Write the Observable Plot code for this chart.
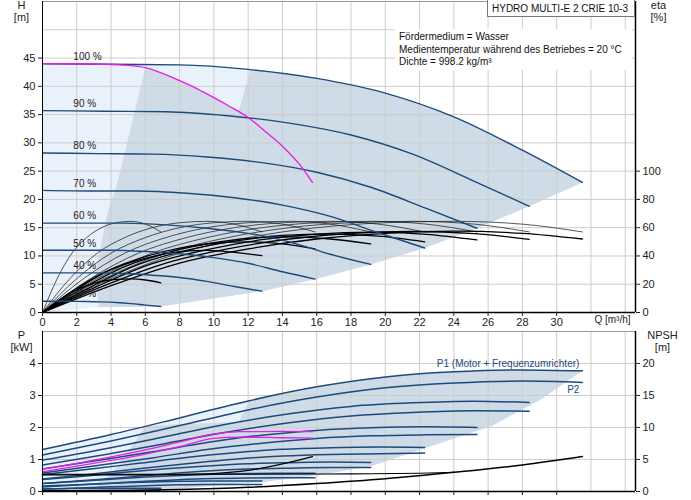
<!DOCTYPE html>
<html><head><meta charset="utf-8">
<script src="https://cdn.jsdelivr.net/npm/d3@7"></script>
<script src="https://cdn.jsdelivr.net/npm/@observablehq/plot@0.6"></script>
<style>
html,body{margin:0;padding:0;background:#fff;}
#wrap{position:relative;width:691px;height:500px;overflow:hidden;font-family:"Liberation Sans",Arial,sans-serif;}
#chartTop{position:absolute;left:0;top:0;}
#chartBot{position:absolute;left:0;top:330px;}
#title{position:absolute;left:487px;top:-1px;border:1px solid #777;background:#fff;font-size:10px;line-height:17px;padding-left:4px;box-sizing:border-box;width:148px;height:18px;color:#111;}
#info{position:absolute;left:395px;top:29px;width:237px;height:41px;background:#fff;font-size:10px;line-height:12.5px;color:#111;padding-left:4px;box-sizing:border-box;padding-top:2px;}
</style></head><body>
<div id="wrap"><div id="chartTop"></div><div id="chartBot"></div>
<div id="title">HYDRO MULTI-E 2 CRIE 10-3</div>
<div id="info">Fördermedium = Wasser<br>Medientemperatur während des Betriebes = 20 °C<br>Dichte = 998.2 kg/m³</div>
</div>
<script>
// ---------- data ----------
const speedLabels = ["100 %","90 %","80 %","70 %","60 %","50 %","40 %","21 %"];
const Q_100 = [0,4,8,12,16,20,24,28,31.5];
const Q_90  = [0,3.6,7.2,10.8,14.4,18,21.6,25.2,28.4];
const Q_80  = [0,3.2,6.4,9.6,12.8,16,19.2,22.4,25.35];
const Q_70  = [0,2.8,5.6,8.4,11.2,14,16.8,19.6,22.3];
const Q_60  = [0,2.4,4.8,7.2,9.6,12,14.4,16.8,19.15];
const Q_50  = [0,2,4,6,8,10,12,14,15.9];
const Q_40  = [0,1.6,3.2,4.8,6.4,8,9.6,11.2,12.8];
const Q_21  = [0,0.86,1.72,2.58,3.44,4.3,5.16,6.02,6.9];

const H_100 = [44.0,43.9,43.8,43.0,41.4,38.8,34.6,28.7,23.0];
const H_90  = [35.7,35.6,35.5,34.8,33.5,31.4,28.0,23.2,18.8];
const H_80  = [28.2,28.1,28.0,27.5,26.5,24.8,22.1,18.4,14.9];
const H_70  = [21.6,21.5,21.5,21.1,20.3,19.0,17.0,14.1,11.4];
const H_60  = [15.8,15.8,15.8,15.5,14.9,14.0,12.5,10.3,8.5];
const H_50  = [11.0,11.0,11.0,10.8,10.4,9.7,8.7,7.2,5.9];
const H_40  = [7.0,7.0,7.0,6.9,6.6,6.2,5.5,4.6,3.77];
const H_21  = [2.0,2.0,1.98,1.95,1.88,1.76,1.57,1.31,1.06];

// pump efficiency [%] (same along each speed curve)
const ETA_PUMP = [0,24,42,53,60,63.5,64.5,62.5,57];
// total efficiency [%]
const ETA_T_100 = [0,19,35,45,52,56,57.5,56,52];
const ETA_T_90  = [0,19,35,45,52,56,57.3,55.8,51.8];
const ETA_T_80  = [0,18.5,34.5,44.5,51.5,55.5,56.8,55.3,51.3];
const ETA_T_70  = [0,18,34,44,50.5,54.5,55.5,54,50];
const ETA_T_60  = [0,17.5,32.5,42,48.5,52.5,53.5,52,48.5];
const ETA_T_50  = [0,16.5,30.5,39.5,45.5,49,50,48.5,45];
const ETA_T_40  = [0,14,26,34,39.5,43,44,42.5,40.2];
const ETA_T_21  = [0,8,14.5,19,22,23.5,23.8,23,21];

// power [kW]
const P1_100 = [1.31,1.78,2.3,2.83,3.27,3.58,3.74,3.8,3.77];
const P1_90  = [0.98,1.33,1.72,2.11,2.43,2.66,2.77,2.82,2.78];
const P1_80  = [0.70,0.97,1.24,1.53,1.76,1.91,1.99,2.02,2.0];
const P1_70  = [0.53,0.70,0.88,1.06,1.21,1.32,1.37,1.39,1.375];
const P1_60  = [0.37,0.48,0.60,0.71,0.80,0.87,0.90,0.92,0.91];
const P1_50  = [0.25,0.31,0.38,0.45,0.5,0.54,0.56,0.57,0.57];
const P1_40  = [0.17,0.2,0.24,0.27,0.3,0.32,0.33,0.33,0.33];
const P1_21  = [0.08,0.085,0.09,0.095,0.1,0.1,0.1,0.1,0.1];
const P2_100 = [1.14,1.58,2.06,2.55,2.95,3.24,3.39,3.45,3.41];
const P2_90  = [0.83,1.15,1.50,1.86,2.15,2.36,2.47,2.52,2.51];
const P2_80  = [0.58,0.81,1.05,1.31,1.51,1.66,1.74,1.77,1.78];
const P2_70  = [0.39,0.54,0.71,0.87,1.01,1.11,1.16,1.18,1.2];
const P2_60  = [0.25,0.34,0.44,0.55,0.64,0.70,0.73,0.75,0.75];
const P2_50  = [0.14,0.2,0.26,0.32,0.37,0.41,0.42,0.43,0.43];
const P2_40  = [0.07,0.1,0.13,0.16,0.19,0.21,0.22,0.22,0.22];
const P2_21  = [0.01,0.015,0.02,0.025,0.029,0.031,0.033,0.033,0.033];

// max-power limit (magenta)
const MAG_HQ = [0,3,5,6,7,8,9,10,11,12,13,14,15,15.75];
const MAG_H  = [44.0,43.95,43.7,43.3,42.3,41.0,39.6,38.0,36.3,34.5,32.0,29.4,26.2,23.0];
const MAG_PQ = [0,2,4,6,8,10,11.5,14,15.75];
const MAG_P1 = [0.7,0.88,1.08,1.3,1.55,1.8,1.87,1.88,1.87];
const MAG_P2 = [0.62,0.79,0.97,1.17,1.4,1.66,1.7,1.68,1.67];

// NPSH [m]
const NPSH_100 = [0.1,0.15,0.3,0.65,1.25,2.0,3.0,4.15,5.47];
const NPSH_MAX_Q = [0,4,8,10,12,14,15.75];
const NPSH_MAX   = [2.6,2.6,2.65,2.8,3.3,4.3,5.45];
const NPSH_B_Q = [0,6,12,18,22,24];
const NPSH_B   = [2.7,2.7,2.7,2.75,2.85,3.0];

// operating range boundaries
const L1_Q = [3.29,3.09,3.19,3.78,4.4,6.0];
const L1_H = [0.94,5.6,8.6,17.4,23.3,43.3];
const L2_Q = [11.44,12.14];
const L2_H = [35.5,43.0];
const L1B_Q = [3.3,3.2,3.78,4.4,6.0];
const L1B_P = [0.05,0.3,0.45,0.78,2.05];
const TOPB_Q = [8,10,11.44,12.1];
const TOPB_P = [2.1,2.14,2.17,2.84];
const BND_Q = [31.5,29,26.2,22.3,19.2,16,12.8,6.9];
const BND_P = [3.77,2.85,2.05,1.35,0.8,0.5,0.3,0.05];

// ticks
const qTicks = [0,2,4,6,8,10,12,14,16,18,20,22,24,26,28,30];
const qGrid = [0,2,4,6,8,10,12,14,16,18,20,22,24,26,28,30,32,34];
const hTicks = [0,5,10,15,20,25,30,35,40,45];
const hGrid = [0,5,10,15,20,25,30,35,40,45,50];
const etaTicks = [0,20,40,60,80,100];
const pTicks = [0,1,2,3,4];
const npshTicks = [0,5,10,15,20];

// ---------- build tables ----------
const sQ = [Q_100,Q_90,Q_80,Q_70,Q_60,Q_50,Q_40,Q_21];
const sH = [H_100,H_90,H_80,H_70,H_60,H_50,H_40,H_21];
const sET = [ETA_T_100,ETA_T_90,ETA_T_80,ETA_T_70,ETA_T_60,ETA_T_50,ETA_T_40,ETA_T_21];
const sP1 = [P1_100,P1_90,P1_80,P1_70,P1_60,P1_50,P1_40,P1_21];
const sP2 = [P2_100,P2_90,P2_80,P2_70,P2_60,P2_50,P2_40,P2_21];
const rows = speedLabels.flatMap((s,i)=> sQ[i].map((q,j)=>({s, q, h:sH[i][j], etaP:ETA_PUMP[j], etaT:sET[i][j], p1:sP1[i][j], p2:sP2[i][j]})));
const labelRows = speedLabels.map((s,i)=>({s, h:sH[i][0]}));
const magH = MAG_HQ.map((q,i)=>({q, h:MAG_H[i]}));
const magP = MAG_PQ.map((q,i)=>({q, p1:MAG_P1[i], p2:MAG_P2[i]}));
const ends = sQ.map((a,i)=>({q:a[a.length-1], h:sH[i][a.length-1]}));

const lightTop = [{q:0,h:0}, ...Q_100.map((q,i)=>({q,h:H_100[i]})), ...ends.slice(1), {q:L1_Q[0],h:L1_H[0]}];
const greyTop = [
  ...L1_Q.map((q,i)=>({q,h:L1_H[i]})),
  ...magH.filter(d=>d.q>6 && d.q<L2_Q[0]),
  ...L2_Q.map((q,i)=>({q,h:L2_H[i]})),
  ...Q_100.map((q,i)=>({q,h:H_100[i]})).filter(d=>d.q>L2_Q[1]),
  ...ends.slice(1)
];
const lightBot = [{q:0,p:0}, ...Q_100.map((q,i)=>({q,p:P1_100[i]})), ...BND_Q.map((q,i)=>({q,p:BND_P[i]})), {q:0,p:0}];
const greyBot = [
  ...L1B_Q.map((q,i)=>({q,p:L1B_P[i]})),
  ...TOPB_Q.map((q,i)=>({q,p:TOPB_P[i]})),
  ...Q_100.map((q,i)=>({q,p:P1_100[i]})).filter(d=>d.q>TOPB_Q[TOPB_Q.length-1]),
  ...BND_Q.map((q,i)=>({q,p:BND_P[i]}))
];

const FONT = "'Liberation Sans', Arial, sans-serif";
const BLUE = "#1d4a7c";
const LIGHT = "#e9f1fa";
const GREY = "#cfdbe7";
const GRID = "#cdcdcd";
const MAG = "#e81ce8";
const XMAX = 34.6;

// ---------- top chart ----------
const topChart = Plot.plot({
  width: 691, height: 330,
  marginLeft: 42, marginRight: 56, marginTop: 1, marginBottom: 18,
  x: {domain: [0, XMAX]},
  y: {domain: [0, 55]},
  style: {fontFamily: FONT, fontSize: "11px", color: "#222", background: "#fff"},
  marks: [
    Plot.line(lightTop, {x:"q", y:"h", fill: LIGHT, stroke: "none"}),
    Plot.line(greyTop, {x:"q", y:"h", fill: GREY, stroke: "none"}),
    Plot.gridX(qGrid, {stroke: GRID, strokeOpacity: 1}),
    Plot.gridY(hGrid, {stroke: GRID, strokeOpacity: 1}),
    Plot.line(rows, {x:"q", y: d=>d.etaP/4, z:"s", stroke:"#111", strokeWidth:0.7, curve:"monotone-x"}),
    Plot.line(rows, {x:"q", y: d=>d.etaT/4, z:"s", stroke:"#000", strokeWidth:1.3, curve:"monotone-x"}),
    Plot.line(rows, {x:"q", y:"h", z:"s", stroke: BLUE, strokeWidth:1.4, curve:"monotone-x"}),
    Plot.line(magH, {x:"q", y:"h", stroke: MAG, strokeWidth:1.3, curve:"monotone-x"}),
    Plot.text(labelRows, {x: () => 1.8, y:"h", text:"s", dy:-7, textAnchor:"start", fontSize:10, fill:"#222"}),
    Plot.ruleY([55], {stroke:"#999"}),
    Plot.ruleX([0], {stroke:"#000"}),
    Plot.ruleX([XMAX], {stroke:"#000", strokeWidth:1.5}),
    Plot.ruleY([0], {stroke:"#000", strokeWidth:1.5}),
    Plot.axisX({ticks: qTicks, tickSize: 4, tickPadding: 2, label: null}),
    Plot.axisY({anchor:"left", ticks: hTicks, tickSize: 4, tickPadding: 3, label: null}),
    Plot.axisY({anchor:"right", ticks: etaTicks.map(e=>e/4), tickFormat: d => d*4, tickSize: 4, tickPadding: 3, label: null}),
    Plot.text(["H\n[m]"], {text: d=>d, frameAnchor:"top-left", dx:-21, dy:-1, lineAnchor:"top", textAnchor:"middle", lineHeight:1.1, fontSize:11}),
    Plot.text(["eta\n[%]"], {text: d=>d, frameAnchor:"top-right", dx:23, dy:-1, lineAnchor:"top", textAnchor:"middle", lineHeight:1.1, fontSize:11}),
    Plot.text(["Q [m³/h]"], {text: d=>d, frameAnchor:"bottom-right", dx:-23, dy:10, textAnchor:"middle", fontSize:10})
  ]
});
document.getElementById("chartTop").appendChild(topChart);

// ---------- bottom chart ----------
const botChart = Plot.plot({
  width: 691, height: 170,
  marginLeft: 42, marginRight: 56, marginTop: 1, marginBottom: 9,
  x: {domain: [0, XMAX]},
  y: {domain: [0, 5]},
  style: {fontFamily: FONT, fontSize: "11px", color: "#222", background: "#fff"},
  marks: [
    Plot.line(lightBot, {x:"q", y:"p", fill: LIGHT, stroke:"none"}),
    Plot.line(greyBot, {x:"q", y:"p", fill: GREY, stroke:"none"}),
    Plot.gridX(qGrid, {stroke: GRID, strokeOpacity: 1}),
    Plot.gridY(pTicks, {stroke: GRID, strokeOpacity: 1}),
    Plot.line(rows, {x:"q", y:"p1", z:"s", stroke: BLUE, strokeWidth:1.5, curve:"monotone-x"}),
    Plot.line(rows, {x:"q", y:"p2", z:"s", stroke: BLUE, strokeWidth:1.5, curve:"monotone-x"}),
    Plot.line(magP, {x:"q", y:"p1", stroke: MAG, strokeWidth:1.3, curve:"monotone-x"}),
    Plot.line(magP, {x:"q", y:"p2", stroke: MAG, strokeWidth:1.3, curve:"monotone-x"}),
    Plot.line(Q_100.map((q,i)=>({q, n:NPSH_100[i]})), {x:"q", y: d=>d.n/5, stroke:"#000", strokeWidth:1.5, curve:"monotone-x"}),
    Plot.line(NPSH_MAX_Q.map((q,i)=>({q, n:NPSH_MAX[i]})), {x:"q", y: d=>d.n/5, stroke:"#000", strokeWidth:1.3, curve:"monotone-x"}),
    Plot.line(NPSH_B_Q.map((q,i)=>({q, n:NPSH_B[i]})), {x:"q", y: d=>d.n/5, stroke:"#000", strokeWidth:1.1, curve:"monotone-x"}),
    Plot.text([{q:Q_100[Q_100.length-1], p:P1_100[P1_100.length-1]}], {x:"q", y:"p", text: () => "P1 (Motor + Frequenzumrichter)", textAnchor:"end", dx:-3, dy:-7, fill: BLUE, fontSize:10}),
    Plot.text([{q:Q_100[Q_100.length-1], p:P2_100[P2_100.length-1]}], {x:"q", y:"p", text: () => "P2", textAnchor:"end", dx:-3, dy:7, fill: BLUE, fontSize:10}),
    Plot.ruleY([5], {stroke:"#999"}),
    Plot.ruleX([0], {stroke:"#000"}),
    Plot.ruleX([XMAX], {stroke:"#000", strokeWidth:1.5}),
    Plot.ruleY([0], {stroke:"#000", strokeWidth:1.5}),
    Plot.axisX({ticks: qTicks, tickSize: 4, tickFormat: () => "", label: null}),
    Plot.axisY({anchor:"left", ticks: pTicks, tickFormat: d => String(d), tickSize: 4, tickPadding: 3, label: null}),
    Plot.axisY({anchor:"right", ticks: npshTicks.map(n=>n/5), tickFormat: d => String(d*5), tickSize: 4, tickPadding: 3, label: null}),
    Plot.text(["P\n[kW]"], {text: d=>d, frameAnchor:"top-left", dx:-21, dy:-1, lineAnchor:"top", textAnchor:"middle", lineHeight:1.1, fontSize:11}),
    Plot.text(["NPSH\n[m]"], {text: d=>d, frameAnchor:"top-right", dx:27, dy:-1, lineAnchor:"top", textAnchor:"middle", lineHeight:1.1, fontSize:11})
  ]
});
document.getElementById("chartBot").appendChild(botChart);
</script>
</body></html>
